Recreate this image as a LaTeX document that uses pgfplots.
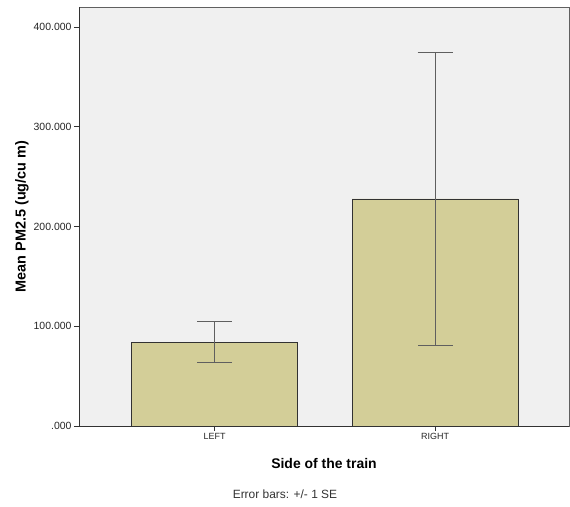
\documentclass[border=0pt]{standalone}
\usepackage{pgfplots}
\pgfplotsset{compat=1.18}
\usepackage{fontspec}
\setmainfont{Liberation Sans}
\definecolor{barfill}{RGB}{211,206,152}
\definecolor{bgc}{RGB}{240,240,240}
\definecolor{errc}{RGB}{95,95,95}
\definecolor{axc}{RGB}{50,50,50}
\begin{document}
\begin{tikzpicture}
\begin{axis}[
  scale only axis,
  width=490bp, height=419bp,
  xmin=-0.615, xmax=1.607,
  ymin=0, ymax=420,
  axis background/.style={fill=bgc},
  axis line style={draw=gray!75!black, line width=0.6bp},
  xtick={0,1}, xticklabels={LEFT,RIGHT},
  ytick={0,100,200,300,400},
  yticklabels={.000,100.000,200.000,300.000,400.000},
  tick align=outside, tickwidth=5bp,
  xtick pos=bottom, ytick pos=left,
  tick style={axc, line width=0.6bp},
  /pgf/number format/assume math mode=true,
  ticklabel style={text=black!85},
  yticklabel style={xshift=1bp, font=\fontsize{10.5}{12}\selectfont},
  xticklabel style={yshift=1bp, font=\fontsize{9}{10}\selectfont},
  xlabel={Side of the train},
  x label style={font=\fontsize{14}{16}\selectfont\bfseries, at={(axis description cs:0.5,0)}, anchor=center, yshift=-38bp},
  ybar, bar width=0.752,
]
\addplot[fill=barfill, draw=axc, line width=0.7bp,
  error bars/.cd, y dir=both, y explicit,
  error bar style={errc, line width=1.1bp},
  error mark options={rotate=90, mark size=17.5bp, errc, line width=1.1bp}]
  coordinates {(0,84.2) +- (0,20.1) (1,227.6) +- (0,147.1)};
\end{axis}
\draw[axc, line width=0.8bp] (current axis.north west) -- (current axis.south west) -- (current axis.south east);
\node[rotate=90, font=\fontsize{14.5}{16}\selectfont\bfseries] at ([xshift=-57bp]current axis.west) {Mean PM2.5 (ug/cu m)};
\node[font=\fontsize{12}{14}\selectfont, text=black!80] at ([xshift=-39bp,yshift=-68bp]current axis.south) {Error bars: +/- 1 SE};
\pgfresetboundingbox
\path[use as bounding box] ([shift={(-79bp,-81bp)}]current axis.south west) rectangle ([shift={(1bp,7bp)}]current axis.north east);
\end{tikzpicture}
\end{document}
